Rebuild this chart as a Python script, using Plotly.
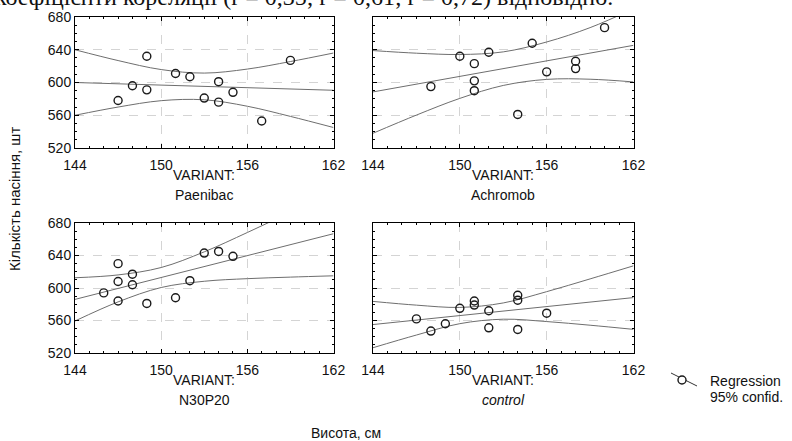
import plotly.graph_objects as go

# ---------------- data ----------------
variants = ["Paenibac", "Achromob", "N30P20", "control"]

height_paenibac = [147, 148, 149, 149, 151, 152, 153, 154, 154, 155, 157, 159]
seeds_paenibac = [578, 596, 632, 591, 611, 607, 581, 601, 576, 588, 553, 627]

height_achromob = [148, 150, 151, 151, 151, 152, 154, 155, 156, 158, 158, 160]
seeds_achromob = [595, 632, 623, 602, 590, 637, 561, 648, 613, 626, 617, 667]

height_n30p20 = [146, 147, 147, 147, 148, 148, 149, 151, 152, 153, 154, 155]
seeds_n30p20 = [594, 630, 608, 584, 617, 604, 581, 588, 609, 643, 645, 639]

height_control = [147, 148, 149, 150, 151, 151, 152, 152, 154, 154, 154, 156]
seeds_control = [562, 547, 556, 575, 584, 579, 572, 551, 591, 585, 549, 569]

fit_x = [144, 162]
fit_paenibac = [600.0, 590.5]
fit_achromob = [588.5, 645.4]
fit_n30p20 = [586.0, 666.8]
fit_control = [555.0, 588.2]

band_x = [144, 147, 150, 153, 156, 159, 162]
upper_paenibac = [640.0, 626.8, 615.8, 611.5, 616.4, 625.6, 636.0]
lower_paenibac = [560.0, 570.0, 577.8, 578.9, 571.0, 558.6, 545.0]
upper_achromob = [639.0, 635.8, 634.2, 637.4, 649.5, 667.0, 690.0]
lower_achromob = [538.0, 560.2, 580.6, 596.4, 603.8, 604.0, 600.7]
upper_n30p20 = [612.6, 616.1, 625.2, 644.5, 668.3, 693.2, 718.6]
lower_n30p20 = [559.4, 582.9, 600.6, 608.3, 611.5, 613.4, 615.0]
upper_control = [583.5, 578.9, 576.1, 581.6, 595.5, 611.2, 627.3]
lower_control = [526.5, 542.1, 556.1, 561.6, 558.7, 554.2, 549.1]

x_ticks = [144, 150, 156, 162]
y_ticks = [520, 560, 600, 640, 680]

legend_labels = ["Regression", "95% confid."]
x_title = "Висота, см"
y_title = "Кількість насіння, шт"
caption = "коефіцієнти кореляції (r = 0,35; r = 0,61; r = 0,72) відповідно."

# ---------------- figure ----------------
W, H = 792, 441
FONT = "Liberation Sans, Arial, sans-serif"
LINE_COL = "#6e6e6e"
TXT = "#111"
FS = 14

panels = [
    (height_paenibac, seeds_paenibac, fit_paenibac, upper_paenibac, lower_paenibac),
    (height_achromob, seeds_achromob, fit_achromob, upper_achromob, lower_achromob),
    (height_n30p20, seeds_n30p20, fit_n30p20, upper_n30p20, lower_n30p20),
    (height_control, seeds_control, fit_control, upper_control, lower_control),
]

# pixel boxes of the four plot areas: (left, right, top, bottom)
boxes = [(75, 333.5, 17, 148), (373, 633.5, 17, 148),
         (75, 333.5, 223, 353), (373, 633.5, 223, 353)]


def px(x):
    return x / W


def py(y):
    return 1 - y / H


fig = go.Figure()
layout = dict(width=W, height=H, autosize=False,
              margin=dict(l=0, r=0, t=0, b=0, autoexpand=False),
              paper_bgcolor="white", plot_bgcolor="white",
              showlegend=False, font=dict(family=FONT, color="black"))

for i, (hx, sy, fy, up, lo) in enumerate(panels):
    n = "" if i == 0 else str(i + 1)
    xa, ya = "x" + n, "y" + n
    for band in (up, lo):
        fig.add_trace(go.Scatter(x=band_x, y=band, mode="lines", xaxis=xa, yaxis=ya,
                                 line=dict(color=LINE_COL, width=1, shape="spline"),
                                 hoverinfo="skip"))
    fig.add_trace(go.Scatter(x=fit_x, y=fy, mode="lines", xaxis=xa, yaxis=ya,
                             line=dict(color=LINE_COL, width=1)))
    fig.add_trace(go.Scatter(x=hx, y=sy, mode="markers", xaxis=xa, yaxis=ya,
                             marker=dict(symbol="circle-open", size=8, color="#1a1a1a",
                                         line=dict(width=1.4, color="#1a1a1a")),
                             cliponaxis=False))
    l, r, t, b = boxes[i]
    common = dict(showline=True, linecolor="black", linewidth=1, mirror="allticks",
                  ticks="inside", ticklen=4, tickcolor="black",
                  showgrid=True, gridcolor="#d4d4d4", griddash="dash", gridwidth=1,
                  zeroline=False, fixedrange=True, automargin=False,
                  tickfont=dict(family=FONT, size=FS, color=TXT))
    layout["xaxis" + n] = dict(common, domain=[px(l), px(r)], anchor=ya,
                               range=[144, 162], tickvals=x_ticks, ticklabelstandoff=4,
                               minor=dict(ticks="inside", ticklen=2, dtick=1,
                                          tick0=144, tickcolor="black", showgrid=False))
    layout["yaxis" + n] = dict(common, domain=[py(b), py(t)], anchor=xa,
                               range=[520, 680], tickvals=y_ticks,
                               showticklabels=(i % 2 == 0),
                               minor=dict(ticks="inside", ticklen=2, dtick=10,
                                          tick0=520, tickcolor="black", showgrid=False))


def ann(x, y, text, xanchor="center", angle=0, size=FS):
    return dict(x=px(x), y=py(y), xref="paper", yref="paper", text=text,
                xanchor=xanchor, yanchor="middle", textangle=angle, showarrow=False,
                font=dict(family=FONT, size=size, color=TXT))


annotations = []
for i, name in enumerate(variants):
    l, r, t, b = boxes[i]
    cx = (l + r) / 2
    annotations.append(ann(cx, b + 27, "VARIANT:"))
    txt = "<i>%s</i>" % name if name == "control" else name
    annotations.append(ann(cx, b + 47, txt))

annotations.append(ann(14, 199, y_title, angle=-90, size=15))
annotations.append(ann(346, 433, x_title))
annotations.append(ann(708, 381, legend_labels[0], xanchor="left"))
annotations.append(ann(708, 397, legend_labels[1], xanchor="left"))
layout["annotations"] = annotations

# legend glyph (slanted line through an open circle) and the cropped caption line
layout["shapes"] = [
    dict(type="line", xref="paper", yref="paper",
         x0=px(671), y0=py(373), x1=px(697), y1=py(386),
         line=dict(color="#333", width=1)),
    dict(type="circle", xref="paper", yref="paper",
         x0=px(678), y0=py(376), x1=px(686), y1=py(384),
         fillcolor="white", line=dict(color="#1a1a1a", width=1.4)),
    dict(type="rect", xref="paper", yref="paper",
         x0=px(-8), x1=px(700), y0=py(8), y1=py(-20),
         line=dict(width=0), fillcolor="rgba(0,0,0,0)",
         label=dict(text=caption, textposition="middle left", padding=0,
                    font=dict(family="Liberation Serif, Times New Roman, serif",
                              size=24, color=TXT))),
]

fig.update_layout(**layout)
fig.write_html("out.html")
